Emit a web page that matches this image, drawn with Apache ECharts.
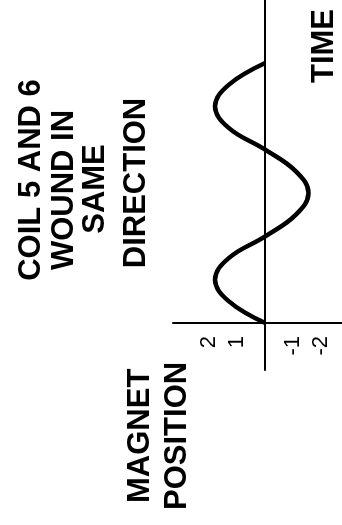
<!DOCTYPE html>
<html>
<head>
<meta charset="utf-8">
<script src="https://cdn.jsdelivr.net/npm/echarts@6/dist/echarts.min.js"></script>
<style>
html,body{margin:0;padding:0;background:#fff;overflow:hidden;}
/* the figure is drawn upright and turned a quarter turn, like the scan */
#chart{position:absolute;left:0;top:0;width:525px;height:342px;
  transform-origin:0 0;transform:translate(0,525px) rotate(-90deg);}
</style>
</head>
<body>
<div id="chart"></div>
<script>
// time in quarter periods, magnet position
var timeVals = [0, 0.5, 1, 1.5, 2, 2.5, 3, 3.5, 4, 4.5, 5, 5.5, 6];
var posVals  = [0, 1.3, 1.8, 1.3, 0, -1.1, -1.55, -1.1, 0, 1.3, 1.8, 1.3, 0];
var posTicks = [2, 1, -1, -2];
var titleLines = ['COIL 5 AND 6', 'WOUND IN', 'SAME', 'DIRECTION'];
var yName = ['MAGNET', 'POSITION'];
var xName = 'TIME';

var font = 'Liberation Sans, Arial, sans-serif';

function buildData(xs, ys){
	var d = [];
	for(var i=0;i<xs.length;i++){
		d.push([xs[i], ys[i]]);
	}
	return d;
}

function bigText(str, x, y, align){
	return {
		type: 'text',
		x: x, y: y,
		style: {
			text: str,
			fill: '#000',
			font: 'bold 31px ' + font,
			textAlign: align,
			textVerticalAlign: 'middle'
		}
	};
}

var titleY = [31, 64, 95, 136];
var titleX = [345, 335, 336, 342];
var graphics = [];
for(var i=0;i<titleLines.length;i++){
	graphics.push(bigText(titleLines[i], titleX[i], titleY[i], 'center'));
}
graphics.push(bigText(yName[0], 22, 140, 'left'));
graphics.push(bigText(yName[1], 15, 177, 'left'));
graphics.push(bigText(xName, 442, 324, 'left'));

var myChart = echarts.init(document.getElementById('chart'), null, {renderer: 'canvas'});
var option = {
	backgroundColor: '#fff',
	animation: false,
	grid: {
		left: 155,
		right: 0,
		top: 173,
		bottom: 0
	},
	xAxis: {
		type: 'value',
		min: -1.085,
		max: 7.455,
		axisLine: {show: true, onZero: true, lineStyle: {color: '#000', width: 2}},
		axisTick: {show: false},
		axisLabel: {show: false},
		splitLine: {show: false}
	},
	yAxis: {
		type: 'value',
		min: -2.75,
		max: 3.3,
		// sits at time 0, moved in from the grid edge so the labels follow it
		offset: -47,
		axisLine: {show: true, onZero: false, lineStyle: {color: '#000', width: 2}},
		axisTick: {show: false},
		axisLabel: {
			customValues: posTicks,
			color: '#000',
			fontSize: 22,
			fontFamily: font,
			margin: 13
		},
		splitLine: {show: false}
	},
	graphic: graphics,
	series: [{
		type: 'line',
		data: buildData(timeVals, posVals),
		smooth: 0.4,
		showSymbol: false,
		lineStyle: {color: '#000', width: 4.5}
	}]
};
myChart.setOption(option, true);
</script>
</body>
</html>
